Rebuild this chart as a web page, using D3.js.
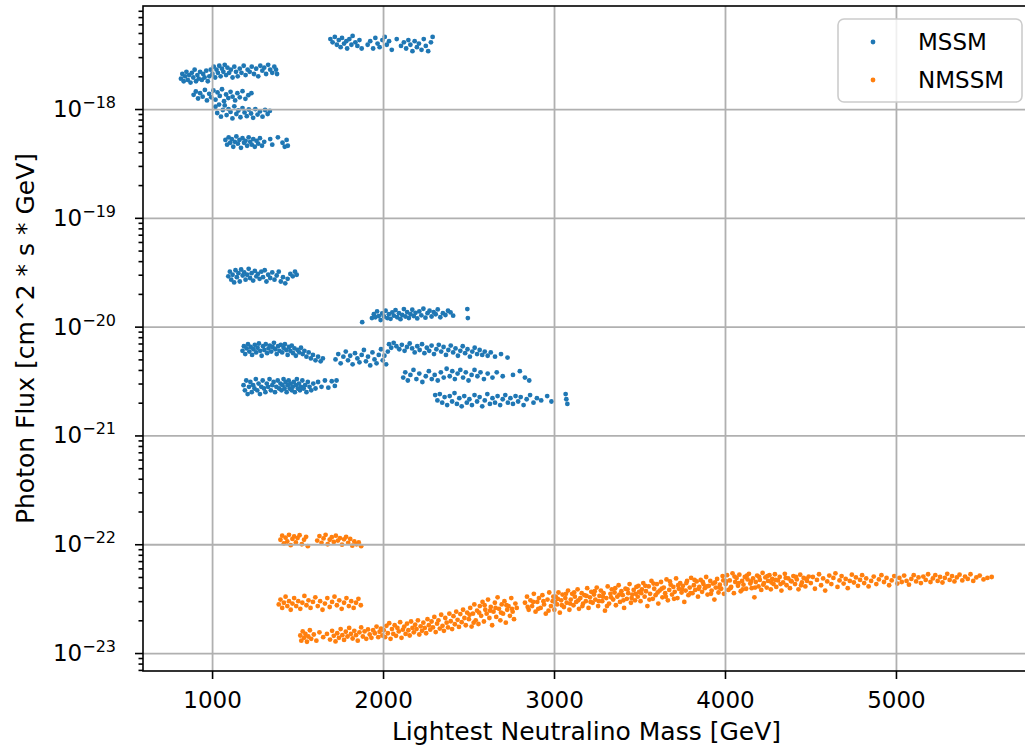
<!DOCTYPE html>
<html>
<head>
<meta charset="utf-8">
<script src="https://cdnjs.cloudflare.com/ajax/libs/d3/7.8.5/d3.min.js"></script>
<style>
  body { margin: 0; background: #fff; overflow: hidden; }
  text { font-family: "DejaVu Sans", sans-serif; fill: #000; }
</style>
</head>
<body>
<div id="chart"></div>
<script>
// tick values and legend names
var xTicks = [1000, 2000, 3000, 4000, 5000];
var yTickExponents = [-23, -22, -21, -20, -19, -18];
var seriesNames = ["MSSM", "NMSSM"];

// MSSM clusters, [mass GeV, photon flux]
var mssmA = [[1692,4.4e-18],[1705,4.1e-18],[1718,4.6e-18],[1730,3.9e-18],[1741,4.3e-18],[1752,3.7e-18],[1760,4.5e-18],[1772,4.0e-18],[1785,4.2e-18],[1790,3.6e-18],[1803,4.4e-18],[1815,3.9e-18],[1822,4.7e-18],[1838,4.1e-18],[1850,3.8e-18],[1862,4.3e-18],[1875,3.6e-18],[1910,3.9e-18],[1925,4.2e-18],[1942,3.6e-18],[1955,4.5e-18],[1968,4.0e-18],[1980,3.7e-18],[1996,4.3e-18],[2010,4.6e-18],[2022,3.9e-18],[2035,4.2e-18],[2051,3.5e-18],[2080,4.4e-18],[2105,3.8e-18],[2122,4.1e-18],[2135,3.6e-18],[2148,4.3e-18],[2160,3.9e-18],[2172,3.4e-18],[2185,4.2e-18],[2198,3.7e-18],[2210,4.0e-18],[2225,3.5e-18],[2238,4.4e-18],[2250,3.8e-18],[2264,3.4e-18],[2280,4.1e-18],[2290,4.6e-18]];
var mssmB = [[818,1.9e-18],[826,2.1e-18],[834,1.8e-18],[842,2.0e-18],[850,2.2e-18],[858,1.85e-18],[866,2.05e-18],[874,1.75e-18],[882,2.15e-18],[890,1.95e-18],[898,2.3e-18],[906,1.8e-18],[914,2.05e-18],[922,1.9e-18],[930,2.2e-18],[940,1.85e-18],[948,2.1e-18],[956,1.95e-18],[966,2.25e-18],[975,1.8e-18],[984,2.0e-18],[992,2.3e-18],[1002,2.1e-18],[1010,2.45e-18],[1018,1.95e-18],[1026,2.3e-18],[1034,2.15e-18],[1042,2.5e-18],[1050,2.0e-18],[1058,2.35e-18],[1066,2.2e-18],[1074,2.55e-18],[1082,2.05e-18],[1090,2.4e-18],[1100,2.15e-18],[1110,2.3e-18],[1120,1.95e-18],[1130,2.45e-18],[1140,2.2e-18],[1150,2.0e-18],[1162,2.35e-18],[1172,2.15e-18],[1185,2.5e-18],[1196,2.05e-18],[1208,2.3e-18],[1220,2.2e-18],[1232,2.45e-18],[1245,2.1e-18],[1258,2.35e-18],[1270,2.0e-18],[1282,2.5e-18],[1294,2.25e-18],[1305,2.4e-18],[1316,2.1e-18],[1328,2.55e-18],[1340,2.3e-18],[1352,2.15e-18],[1364,2.45e-18],[1374,2.3e-18],[1380,2.1e-18]];
var mssmC = [[892,1.35e-18],[905,1.45e-18],[918,1.25e-18],[930,1.4e-18],[945,1.3e-18],[958,1.5e-18],[970,1.2e-18],[983,1.38e-18],[995,1.28e-18],[1008,1.48e-18],[1020,1.22e-18],[1032,1.42e-18],[1045,1.32e-18],[1058,1.52e-18],[1070,1.18e-18],[1082,1.36e-18],[1095,1.26e-18],[1108,1.44e-18],[1120,1.3e-18],[1135,1.2e-18],[1148,1.4e-18],[1162,1.28e-18],[1178,1.46e-18],[1195,1.24e-18],[1212,1.34e-18],[1230,1.4e-18]];
var mssmD = [[1020,1.05e-18],[1030,9.2e-19],[1041,1.1e-18],[1052,8.5e-19],[1063,9.8e-19],[1074,1.08e-18],[1085,8.8e-19],[1096,1.0e-18],[1108,9.4e-19],[1119,8.2e-19],[1130,1.06e-18],[1142,9.0e-19],[1154,9.7e-19],[1166,8.4e-19],[1178,1.02e-18],[1190,9.3e-19],[1203,8.6e-19],[1215,9.9e-19],[1228,9.1e-19],[1240,8.3e-19],[1253,1.0e-18],[1266,8.9e-19],[1280,9.5e-19],[1295,8.5e-19],[1310,9.8e-19],[1325,9.0e-19],[1338,9.6e-19]];
var mssmE = [[1078,5.2e-19],[1088,4.7e-19],[1097,5.5e-19],[1106,4.9e-19],[1115,5.3e-19],[1124,4.5e-19],[1133,5.0e-19],[1142,5.6e-19],[1151,4.8e-19],[1160,5.2e-19],[1169,4.4e-19],[1178,5.4e-19],[1187,4.9e-19],[1196,5.1e-19],[1205,4.6e-19],[1214,5.5e-19],[1223,5.0e-19],[1232,4.7e-19],[1241,5.3e-19],[1250,4.5e-19],[1260,5.1e-19],[1270,4.8e-19],[1280,5.4e-19],[1292,4.6e-19],[1305,5.0e-19],[1340,5.3e-19],[1352,4.7e-19],[1385,5.5e-19],[1412,4.9e-19],[1425,4.5e-19],[1436,5.2e-19],[1443,4.6e-19]];
var mssmF = [[1095,2.9e-20],[1104,3.2e-20],[1112,2.7e-20],[1120,3.0e-20],[1129,2.55e-20],[1137,3.3e-20],[1145,2.85e-20],[1154,3.1e-20],[1162,2.6e-20],[1170,3.35e-20],[1179,2.95e-20],[1188,3.15e-20],[1196,2.7e-20],[1205,3.0e-20],[1214,3.4e-20],[1222,2.8e-20],[1231,3.1e-20],[1240,2.65e-20],[1250,3.25e-20],[1259,2.9e-20],[1268,3.05e-20],[1278,2.75e-20],[1288,3.2e-20],[1298,2.85e-20],[1308,3.3e-20],[1318,2.6e-20],[1328,3.0e-20],[1340,2.8e-20],[1352,3.15e-20],[1365,2.7e-20],[1378,2.95e-20],[1390,3.2e-20],[1402,2.6e-20],[1415,2.85e-20],[1428,2.5e-20],[1442,2.75e-20],[1458,3.05e-20],[1472,2.9e-20],[1485,3.2e-20],[1495,3.0e-20]];
var mssmG = [[1878,1.1e-20],[1935,1.2e-20],[1946,1.3e-20],[1955,1.22e-20],[1965,1.38e-20],[1975,1.25e-20],[1986,1.15e-20],[1995,1.32e-20],[2005,1.24e-20],[2015,1.4e-20],[2025,1.2e-20],[2034,1.3e-20],[2044,1.18e-20],[2054,1.35e-20],[2063,1.26e-20],[2073,1.42e-20],[2083,1.22e-20],[2093,1.33e-20],[2102,1.17e-20],[2112,1.28e-20],[2122,1.45e-20],[2131,1.24e-20],[2141,1.36e-20],[2151,1.2e-20],[2161,1.3e-20],[2171,1.43e-20],[2180,1.25e-20],[2190,1.34e-20],[2200,1.19e-20],[2212,1.38e-20],[2224,1.27e-20],[2236,1.46e-20],[2248,1.21e-20],[2260,1.33e-20],[2272,1.4e-20],[2284,1.24e-20],[2296,1.36e-20],[2308,1.3e-20],[2320,1.44e-20],[2335,1.22e-20],[2350,1.33e-20],[2365,1.28e-20],[2380,1.4e-20],[2395,1.35e-20],[2410,1.26e-20],[2493,1.45e-20],[2496,1.2e-20]];
var mssmH = [[1178,6.0e-21],[1186,6.6e-21],[1194,5.6e-21],[1202,6.3e-21],[1210,6.9e-21],[1218,5.9e-21],[1226,6.5e-21],[1234,5.5e-21],[1242,6.2e-21],[1250,6.8e-21],[1258,5.8e-21],[1266,6.4e-21],[1274,7.0e-21],[1282,6.0e-21],[1290,5.4e-21],[1298,6.6e-21],[1306,6.1e-21],[1314,6.9e-21],[1322,5.7e-21],[1330,6.3e-21],[1338,6.7e-21],[1346,5.9e-21],[1354,6.5e-21],[1362,7.1e-21],[1370,6.2e-21],[1378,5.6e-21],[1386,6.6e-21],[1394,6.0e-21],[1402,6.8e-21],[1410,5.8e-21],[1418,6.4e-21],[1426,6.9e-21],[1434,6.1e-21],[1442,5.5e-21],[1450,6.5e-21],[1458,6.0e-21],[1466,6.7e-21],[1474,5.7e-21],[1482,6.3e-21],[1490,5.4e-21],[1500,6.1e-21],[1510,5.8e-21],[1520,6.4e-21],[1530,5.6e-21],[1540,6.0e-21],[1552,5.3e-21],[1565,5.8e-21],[1578,5.1e-21],[1590,5.5e-21],[1605,4.9e-21],[1620,5.3e-21],[1635,4.8e-21],[1648,5.1e-21]];
var mssmJ = [[1722,5.0e-21],[1738,5.6e-21],[1752,4.6e-21],[1768,5.3e-21],[1782,5.9e-21],[1795,4.9e-21],[1808,5.4e-21],[1822,4.5e-21],[1836,5.7e-21],[1850,5.1e-21],[1862,4.7e-21],[1875,5.5e-21],[1888,6.1e-21],[1900,4.8e-21],[1912,5.3e-21],[1925,4.4e-21],[1938,5.8e-21],[1950,5.0e-21],[1962,4.6e-21],[1975,5.5e-21],[1988,6.2e-21],[1998,4.9e-21],[2008,5.4e-21],[2018,4.5e-21],[2028,5.9e-21]];
var mssmI = [[2035,6.9e-21],[2048,6.4e-21],[2062,7.1e-21],[2078,6.6e-21],[2095,6.2e-21],[2110,6.8e-21],[2126,6.0e-21],[2140,6.5e-21],[2156,7.0e-21],[2170,6.3e-21],[2185,5.8e-21],[2200,6.6e-21],[2214,6.1e-21],[2228,6.9e-21],[2242,5.7e-21],[2256,6.4e-21],[2270,6.0e-21],[2284,6.7e-21],[2298,5.6e-21],[2312,6.2e-21],[2326,6.8e-21],[2340,5.9e-21],[2354,6.5e-21],[2368,5.5e-21],[2382,6.1e-21],[2396,6.7e-21],[2410,5.8e-21],[2424,6.3e-21],[2438,5.4e-21],[2452,6.0e-21],[2466,6.6e-21],[2480,5.7e-21],[2494,6.2e-21],[2508,5.3e-21],[2522,5.9e-21],[2536,6.4e-21],[2550,5.6e-21],[2565,6.1e-21],[2580,5.5e-21],[2595,5.9e-21],[2612,5.4e-21],[2630,5.8e-21],[2655,5.3e-21],[2690,5.6e-21],[2728,5.2e-21]];
var mssmK = [[2118,3.4e-21],[2130,3.8e-21],[2145,3.2e-21],[2160,3.6e-21],[2178,4.0e-21],[2195,3.3e-21],[2212,3.7e-21],[2230,3.1e-21],[2250,3.5e-21],[2268,3.9e-21],[2285,3.3e-21],[2302,3.6e-21],[2320,3.2e-21],[2338,3.8e-21],[2355,3.4e-21],[2372,4.1e-21],[2390,3.5e-21],[2405,3.9e-21],[2420,3.3e-21],[2436,3.7e-21],[2452,4.0e-21],[2468,3.4e-21],[2484,3.8e-21],[2500,3.2e-21],[2518,3.6e-21],[2535,4.0e-21],[2552,3.5e-21],[2570,3.8e-21],[2590,3.3e-21],[2612,3.7e-21],[2640,3.4e-21],[2665,3.8e-21],[2700,3.5e-21],[2760,3.6e-21],[2800,3.9e-21],[2830,3.4e-21],[2855,3.2e-21]];
var mssmL = [[1184,2.9e-21],[1192,2.6e-21],[1200,3.2e-21],[1208,2.4e-21],[1216,2.8e-21],[1224,3.1e-21],[1232,2.5e-21],[1240,2.9e-21],[1248,2.7e-21],[1256,3.3e-21],[1264,2.6e-21],[1272,3.0e-21],[1280,2.4e-21],[1288,2.8e-21],[1296,3.2e-21],[1304,2.7e-21],[1312,2.5e-21],[1320,3.0e-21],[1328,2.8e-21],[1336,3.3e-21],[1344,2.6e-21],[1352,2.9e-21],[1360,3.1e-21],[1368,2.5e-21],[1376,2.8e-21],[1384,3.2e-21],[1392,2.7e-21],[1400,3.0e-21],[1406,2.6e-21],[1412,2.9e-21],[1418,3.3e-21],[1424,2.7e-21],[1430,3.1e-21],[1436,2.5e-21],[1442,2.9e-21],[1448,3.2e-21],[1454,2.7e-21],[1460,3.0e-21],[1466,2.6e-21],[1472,2.8e-21],[1478,3.1e-21],[1484,2.5e-21],[1490,2.9e-21],[1496,3.3e-21],[1502,2.7e-21],[1508,3.0e-21],[1514,2.6e-21],[1520,2.8e-21],[1528,3.2e-21],[1536,2.7e-21],[1544,2.9e-21],[1552,2.5e-21],[1560,3.1e-21],[1570,2.8e-21],[1580,2.6e-21],[1592,3.0e-21],[1605,2.7e-21],[1620,3.1e-21],[1640,2.8e-21],[1660,3.2e-21],[1680,2.75e-21],[1700,3.15e-21],[1718,2.85e-21],[1728,3.2e-21]];
var mssmM = [[2305,2.35e-21],[2318,2.1e-21],[2332,2.4e-21],[2346,2.0e-21],[2360,2.25e-21],[2375,1.9e-21],[2390,2.3e-21],[2404,2.05e-21],[2418,2.45e-21],[2432,1.95e-21],[2446,2.2e-21],[2460,1.85e-21],[2475,2.3e-21],[2490,2.0e-21],[2505,2.15e-21],[2520,1.9e-21],[2535,2.35e-21],[2550,2.05e-21],[2565,2.25e-21],[2580,1.85e-21],[2595,2.1e-21],[2610,2.4e-21],[2625,1.95e-21],[2640,2.2e-21],[2655,2.0e-21],[2670,2.3e-21],[2685,1.9e-21],[2700,2.15e-21],[2715,2.35e-21],[2730,2.0e-21],[2745,2.2e-21],[2760,1.95e-21],[2775,2.3e-21],[2790,2.05e-21],[2805,2.25e-21],[2822,1.9e-21],[2840,2.15e-21],[2860,2.35e-21],[2880,2.0e-21],[2900,2.2e-21],[2925,2.1e-21],[2960,2.3e-21],[2985,2.05e-21],[3068,2.4e-21],[3072,2.15e-21],[3078,1.95e-21]];

// NMSSM clusters
var nmssmN = [[1400,1.1e-22],[1410,1.2e-22],[1420,1.02e-22],[1430,1.15e-22],[1440,1.06e-22],[1450,1.22e-22],[1460,9.8e-23],[1470,1.12e-22],[1480,1.18e-22],[1490,1.04e-22],[1500,1.14e-22],[1512,1.21e-22],[1525,1.0e-22],[1538,1.1e-22],[1550,1.17e-22],[1560,9.6e-23],[1615,1.08e-22],[1628,1.19e-22],[1640,1.03e-22],[1652,1.13e-22],[1664,1.22e-22],[1676,1.0e-22],[1688,1.1e-22],[1700,1.16e-22],[1712,1.05e-22],[1724,1.2e-22],[1736,1.08e-22],[1748,1.14e-22],[1760,9.9e-23],[1772,1.11e-22],[1784,1.17e-22],[1796,1.03e-22],[1808,1.12e-22],[1820,9.7e-23],[1832,1.06e-22],[1845,1.0e-22],[1858,1.04e-22],[1872,9.6e-23]];
var nmssmO = [[1390,2.8e-23],[1400,3.1e-23],[1410,2.6e-23],[1420,2.9e-23],[1430,3.3e-23],[1440,2.7e-23],[1450,3.0e-23],[1460,2.5e-23],[1470,2.85e-23],[1480,3.2e-23],[1492,2.7e-23],[1504,3.0e-23],[1516,2.55e-23],[1528,2.9e-23],[1540,3.35e-23],[1552,2.75e-23],[1564,3.05e-23],[1576,2.6e-23],[1590,2.95e-23],[1604,3.25e-23],[1618,2.7e-23],[1632,3.0e-23],[1646,2.5e-23],[1660,2.85e-23],[1674,3.2e-23],[1688,2.65e-23],[1702,2.95e-23],[1716,3.3e-23],[1730,2.75e-23],[1744,3.05e-23],[1758,2.55e-23],[1772,2.9e-23],[1786,3.2e-23],[1800,2.7e-23],[1814,3.0e-23],[1828,2.6e-23],[1842,2.9e-23],[1856,3.15e-23],[1870,2.75e-23]];
var nmssmBand1 = [[1516,1.45e-23],[1522,1.3e-23],[1530,1.58e-23],[1538,1.38e-23],[1546,1.5e-23],[1555,1.27e-23],[1563,1.42e-23],[1572,1.62e-23],[1580,1.35e-23],[1595,1.48e-23],[1610,1.3e-23],[1628,1.55e-23],[1650,1.4e-23],[1672,1.5e-23],[1690,1.33e-23],[1702,1.6e-23],[1712,1.44e-23],[1722,1.28e-23],[1732,1.52e-23],[1742,1.38e-23],[1752,1.66e-23],[1762,1.46e-23],[1772,1.32e-23],[1782,1.57e-23],[1792,1.42e-23],[1802,1.7e-23],[1812,1.5e-23],[1822,1.36e-23],[1832,1.6e-23],[1842,1.46e-23],[1852,1.3e-23],[1862,1.55e-23],[1872,1.72e-23],[1882,1.42e-23],[1892,1.58e-23],[1902,1.35e-23],[1912,1.65e-23],[1922,1.48e-23],[1932,1.38e-23],[1942,1.62e-23],[1952,1.52e-23],[1962,1.75e-23],[1972,1.4e-23],[1980,1.57e-23],[1988,1.68e-23],[1996,1.45e-23]];
var nmssmBand2 = [[2004,1.62e-23],[2012,1.4e-23],[2020,1.78e-23],[2028,1.52e-23],[2036,1.88e-23],[2044,1.35e-23],[2052,1.66e-23],[2060,1.5e-23],[2068,1.8e-23],[2076,1.44e-23],[2084,1.7e-23],[2092,1.58e-23],[2100,1.92e-23],[2108,1.38e-23],[2116,1.64e-23],[2124,1.75e-23],[2132,1.5e-23],[2140,1.86e-23],[2148,1.62e-23],[2156,1.45e-23],[2164,1.95e-23],[2172,1.7e-23],[2180,1.55e-23],[2188,1.82e-23],[2196,1.66e-23],[2204,2.0e-23],[2212,1.48e-23],[2220,1.76e-23],[2228,1.6e-23],[2236,1.9e-23],[2244,1.7e-23],[2252,1.52e-23],[2260,2.05e-23],[2268,1.8e-23],[2276,1.64e-23],[2284,1.95e-23],[2292,1.72e-23],[2300,2.15e-23],[2308,1.56e-23],[2316,1.86e-23],[2324,2.0e-23],[2332,1.68e-23],[2340,2.25e-23],[2348,1.78e-23],[2356,1.6e-23],[2364,2.1e-23],[2372,1.9e-23],[2380,1.72e-23],[2388,2.3e-23],[2396,1.96e-23],[2404,1.66e-23],[2412,2.18e-23],[2420,1.84e-23],[2428,2.4e-23],[2436,2.02e-23],[2444,1.74e-23],[2452,2.28e-23],[2460,1.92e-23],[2468,2.5e-23],[2476,2.1e-23],[2484,1.8e-23],[2492,2.35e-23]];
var nmssmBand3 = [[2502,2.05e-23],[2510,2.6e-23],[2518,1.75e-23],[2526,2.3e-23],[2534,2.8e-23],[2542,2.0e-23],[2550,2.45e-23],[2558,1.85e-23],[2566,2.7e-23],[2574,2.2e-23],[2582,2.95e-23],[2590,1.95e-23],[2598,2.5e-23],[2606,2.3e-23],[2614,3.1e-23],[2622,2.1e-23],[2630,2.65e-23],[2638,1.8e-23],[2646,2.4e-23],[2654,2.9e-23],[2662,2.15e-23],[2670,3.25e-23],[2678,2.55e-23],[2686,2.0e-23],[2694,2.8e-23],[2702,2.3e-23],[2710,3.0e-23],[2718,1.9e-23],[2726,2.5e-23],[2734,2.7e-23],[2742,2.2e-23],[2750,3.2e-23],[2758,2.4e-23],[2766,2.05e-23],[2774,2.85e-23],[2782,2.6e-23],[2830,2.9e-23],[2842,3.3e-23],[2852,2.5e-23],[2862,3.05e-23],[2872,2.7e-23],[2882,3.5e-23],[2892,2.4e-23],[2902,2.95e-23],[2912,3.2e-23],[2922,2.6e-23],[2932,3.4e-23],[2942,2.8e-23],[2952,2.3e-23],[2962,3.1e-23],[2972,3.6e-23],[2982,2.7e-23],[2992,3.0e-23],
    [2506,2.25e-23],[2530,1.9e-23],[2562,2.35e-23],[2594,2.75e-23],[2626,2.45e-23],[2658,2.6e-23],[2690,2.35e-23],[2722,2.75e-23],[2754,2.55e-23],[2846,2.65e-23],[2878,2.95e-23],[2908,2.55e-23],[2938,3.0e-23],[2968,2.45e-23],[2996,3.3e-23]];
var nmssmBand4 = [[3002,2.5e-23],[3010,3.3e-23],[3018,2.8e-23],[3026,3.6e-23],[3034,2.35e-23],[3042,3.05e-23],[3050,3.45e-23],[3058,2.65e-23],[3066,3.2e-23],[3074,2.9e-23],[3082,3.75e-23],[3090,2.5e-23],[3098,3.1e-23],[3106,3.5e-23],[3114,2.75e-23],[3122,3.3e-23],[3130,2.95e-23],[3138,3.85e-23],[3146,2.55e-23],[3154,3.2e-23],[3162,3.55e-23],[3170,2.85e-23],[3178,3.4e-23],[3186,3.0e-23],[3194,3.95e-23],[3202,2.6e-23],[3210,3.25e-23],[3218,3.65e-23],[3226,2.9e-23],[3234,3.45e-23],[3242,3.1e-23],[3250,4.0e-23],[3258,2.7e-23],[3266,3.35e-23],[3274,3.75e-23],[3282,3.0e-23],[3290,3.55e-23],[3298,2.45e-23],[3306,3.2e-23],[3314,4.1e-23],[3322,2.85e-23],[3330,3.5e-23],[3338,3.85e-23],[3346,3.1e-23],[3354,3.6e-23],[3362,2.75e-23],[3370,3.3e-23],[3378,4.2e-23],[3386,2.95e-23],[3394,3.7e-23],[3402,3.4e-23],[3410,2.6e-23],[3418,3.9e-23],[3426,3.15e-23],[3434,3.55e-23],[3442,4.3e-23],[3450,2.9e-23],[3458,3.45e-23],[3466,3.8e-23],[3474,3.05e-23],[3482,4.05e-23],[3490,3.3e-23],[3498,3.65e-23],
    [3006,2.95e-23],[3022,3.15e-23],[3046,2.75e-23],[3070,3.5e-23],[3094,2.85e-23],[3118,3.6e-23],[3142,3.05e-23],[3166,2.7e-23],[3190,3.35e-23],[3214,2.95e-23],[3238,3.7e-23],[3262,3.0e-23],[3286,3.3e-23],[3310,2.7e-23],[3334,3.25e-23],[3358,3.95e-23],[3382,3.45e-23],[3406,3.05e-23],[3430,3.85e-23],[3454,3.2e-23],[3478,3.5e-23],[3494,4.15e-23]];
var nmssmBand5 = [[3506,3.0e-23],[3514,3.85e-23],[3522,4.4e-23],[3530,3.3e-23],[3538,3.7e-23],[3546,2.7e-23],[3554,4.1e-23],[3562,3.5e-23],[3570,4.6e-23],[3578,3.15e-23],[3586,3.9e-23],[3594,3.4e-23],[3602,4.3e-23],[3610,2.85e-23],[3618,3.75e-23],[3626,4.5e-23],[3634,3.25e-23],[3642,4.0e-23],[3650,3.55e-23],[3658,4.75e-23],[3666,3.05e-23],[3674,3.8e-23],[3682,4.25e-23],[3690,3.45e-23],[3698,4.05e-23],[3706,3.65e-23],[3714,4.85e-23],[3722,3.2e-23],[3730,3.9e-23],[3738,4.4e-23],[3746,3.6e-23],[3754,4.15e-23],[3762,2.95e-23],[3770,3.75e-23],[3778,4.6e-23],[3786,3.4e-23],[3794,4.0e-23],[3802,4.9e-23],[3810,3.55e-23],[3818,4.2e-23],[3826,3.8e-23],[3834,4.55e-23],[3842,3.3e-23],[3850,4.05e-23],[3858,4.7e-23],[3866,3.65e-23],[3874,4.3e-23],[3882,3.95e-23],[3890,5.0e-23],[3898,3.45e-23],[3906,4.15e-23],[3914,4.6e-23],[3922,3.75e-23],[3930,4.35e-23],[3938,3.1e-23],[3946,4.0e-23],[3954,4.8e-23],[3962,3.6e-23],[3970,4.25e-23],[3978,3.9e-23],[3986,5.1e-23],[3994,3.5e-23],
    [3510,3.55e-23],[3534,4.15e-23],[3558,3.1e-23],[3582,4.35e-23],[3606,3.6e-23],[3630,3.9e-23],[3654,3.3e-23],[3678,4.55e-23],[3702,3.15e-23],[3726,4.2e-23],[3750,3.85e-23],[3774,4.4e-23],[3798,3.55e-23],[3822,4.7e-23],[3846,3.9e-23],[3870,4.5e-23],[3894,4.1e-23],[3918,3.5e-23],[3942,4.45e-23],[3966,4.0e-23],[3990,4.65e-23]];
var nmssmBand6 = [[4004,4.3e-23],[4012,5.2e-23],[4020,3.8e-23],[4028,4.65e-23],[4036,4.05e-23],[4044,5.4e-23],[4052,3.55e-23],[4060,4.5e-23],[4068,4.9e-23],[4076,4.15e-23],[4084,5.25e-23],[4092,3.7e-23],[4100,4.6e-23],[4108,4.25e-23],[4116,5.0e-23],[4124,3.9e-23],[4132,4.75e-23],[4140,5.35e-23],[4148,4.35e-23],[4156,3.95e-23],[4164,4.85e-23],[4172,3.25e-23],[4180,4.5e-23],[4188,5.15e-23],[4196,4.1e-23],[4204,4.7e-23],[4212,3.8e-23],[4220,5.45e-23],[4228,4.4e-23],[4236,4.95e-23],[4244,4.0e-23],[4252,4.6e-23],[4260,5.2e-23],[4268,3.85e-23],[4276,4.8e-23],[4284,4.3e-23],[4292,5.3e-23],[4300,4.05e-23],[4310,4.65e-23],[4320,5.0e-23],[4330,3.75e-23],[4340,4.45e-23],[4350,5.35e-23],[4360,4.2e-23],[4370,4.85e-23],[4380,3.95e-23],[4390,4.55e-23],[4400,5.1e-23],[4410,4.3e-23],[4420,4.75e-23],[4430,3.85e-23],[4440,5.25e-23],[4450,4.45e-23],[4460,4.9e-23],[4470,4.1e-23],[4480,4.6e-23],[4490,5.05e-23],
    [4008,4.55e-23],[4032,3.95e-23],[4056,5.05e-23],[4080,4.4e-23],[4104,3.85e-23],[4128,5.15e-23],[4152,4.55e-23],[4176,4.0e-23],[4200,5.0e-23],[4224,4.25e-23],[4248,5.1e-23],[4272,4.45e-23],[4296,4.7e-23],[4325,4.3e-23],[4355,4.9e-23],[4385,4.6e-23],[4415,5.0e-23],[4445,4.2e-23],[4475,4.8e-23]];
var nmssmBand7 = [[4502,4.4e-23],[4514,5.0e-23],[4526,3.9e-23],[4538,4.7e-23],[4550,5.3e-23],[4562,4.2e-23],[4574,4.85e-23],[4586,3.75e-23],[4598,4.55e-23],[4610,5.15e-23],[4622,4.3e-23],[4634,4.9e-23],[4646,5.4e-23],[4658,4.05e-23],[4670,4.65e-23],[4682,5.1e-23],[4694,4.35e-23],[4706,4.8e-23],[4718,3.95e-23],[4730,4.6e-23],[4742,5.25e-23],[4754,4.45e-23],[4766,4.95e-23],[4778,4.15e-23],[4790,4.7e-23],[4802,5.2e-23],[4814,4.4e-23],[4826,4.85e-23],[4840,4.1e-23],[4855,4.6e-23],[4870,5.05e-23],[4885,4.3e-23],[4900,4.75e-23],[4915,5.2e-23],[4930,4.5e-23],[4945,4.9e-23],[4960,4.2e-23],[4975,4.65e-23],[4990,5.1e-23]];
var nmssmBand8 = [[5008,4.35e-23],[5020,4.9e-23],[5034,4.5e-23],[5048,5.15e-23],[5062,4.6e-23],[5076,4.25e-23],[5090,4.8e-23],[5104,5.2e-23],[5118,4.55e-23],[5132,4.95e-23],[5146,4.4e-23],[5160,5.05e-23],[5174,4.7e-23],[5188,5.3e-23],[5202,4.5e-23],[5216,4.85e-23],[5230,5.2e-23],[5244,4.6e-23],[5258,5.0e-23],[5272,4.45e-23],[5286,4.9e-23],[5300,5.35e-23],[5314,4.7e-23],[5328,5.1e-23],[5342,4.55e-23],[5356,4.95e-23],[5372,5.25e-23],[5388,4.65e-23],[5404,5.05e-23],[5420,4.8e-23],[5436,5.3e-23],[5452,4.6e-23],[5470,4.95e-23],[5490,5.15e-23],[5512,4.75e-23],[5535,4.9e-23],[5560,5.0e-23]];

var mssm = [].concat(mssmA, mssmB, mssmC, mssmD, mssmE, mssmF, mssmG, mssmH, mssmJ, mssmI, mssmK, mssmL, mssmM);
var nmssm = [].concat(nmssmN, nmssmO, nmssmBand1, nmssmBand2, nmssmBand3, nmssmBand4, nmssmBand5, nmssmBand6, nmssmBand7, nmssmBand8);

var colors = ["#1f77b4", "#ff7f0e"];

// drawing area (right spine falls just outside the picture)
var margin = {top: 6, left: 143};
var width = 887, height = 665;

var svg = d3.select("#chart")
    .append("svg")
    .attr("width", 1025)
    .attr("height", 749);

var g = svg.append("g")
    .attr("transform", "translate(" + margin.left + "," + margin.top + ")");

var x = d3.scaleLinear()
    .domain([596, 5784])
    .range([0, width]);

var y = d3.scaleLog()
    .domain([Math.pow(10, -23.165), Math.pow(10, -17.053)])
    .range([height, 0]);

var majorY = yTickExponents.map(function(e) { return Math.pow(10, e); });
var minorY = y.ticks().filter(function(v) {
    var l = Math.log10(v);
    return Math.abs(l - Math.round(l)) > 1e-6;
});

// points
[mssm, nmssm].forEach(function(series, i) {
    g.append("g")
        .selectAll("circle")
        .data(series)
        .enter()
        .append("circle")
        .attr("cx", function(d) { return x(d[0]); })
        .attr("cy", function(d) { return y(d[1]); })
        .attr("r", 2.4)
        .style("fill", colors[i]);
});

// grid sits above the scatter, like matplotlib
var gridX = g.append("g")
    .attr("transform", "translate(0," + height + ")")
    .call(d3.axisBottom(x).tickValues(xTicks).tickSize(-height).tickFormat(""));
var gridY = g.append("g")
    .call(d3.axisLeft(y).tickValues(majorY).tickSize(-width).tickFormat(""));
[gridX, gridY].forEach(function(gr) {
    gr.select(".domain").remove();
    gr.selectAll("line").style("stroke", "#b0b0b0").style("stroke-width", 1.8);
});

// axes
var xAxis = g.append("g")
    .attr("transform", "translate(0," + height + ")")
    .call(d3.axisBottom(x).tickValues(xTicks).tickSize(8).tickPadding(13).tickFormat(d3.format("d")));

var yMinor = g.append("g")
    .call(d3.axisLeft(y).tickValues(minorY).tickSize(4.5).tickFormat(""));

var yAxis = g.append("g")
    .call(d3.axisLeft(y).tickValues(majorY).tickSize(8).tickPadding(19));

yAxis.selectAll(".tick text")
    .text(null)
    .each(function(d, i) {
        var t = d3.select(this);
        t.append("tspan").text("10");
        t.append("tspan")
            .attr("dy", -9)
            .style("font-size", "16px")
            .text("\u2212" + Math.abs(yTickExponents[i]));
    });

[xAxis, yAxis, yMinor].forEach(function(ax) {
    ax.selectAll(".domain").remove();
    ax.selectAll("line").style("stroke", "#000").style("stroke-width", 1.6);
    ax.selectAll("text").style("font-size", "23px").style("font-family", "DejaVu Sans");
});

// spines
g.append("rect")
    .attr("width", width)
    .attr("height", height)
    .style("fill", "none")
    .style("stroke", "#000")
    .style("stroke-width", 1.6);

// axis labels
svg.append("text")
    .attr("x", margin.left + width / 2)
    .attr("y", 740)
    .attr("text-anchor", "middle")
    .style("font-size", "25px")
    .text("Lightest Neutralino Mass [GeV]");

svg.append("text")
    .attr("transform", "translate(34," + (margin.top + height / 2) + ") rotate(-90)")
    .attr("text-anchor", "middle")
    .style("font-size", "25px")
    .text("Photon Flux [cm^2 * s * GeV]");

// legend
var legend = svg.append("g");
legend.append("rect")
    .attr("x", 838)
    .attr("y", 19)
    .attr("width", 184)
    .attr("height", 83)
    .attr("rx", 6)
    .style("fill", "#fff")
    .style("fill-opacity", 0.8)
    .style("stroke", "#cccccc")
    .style("stroke-width", 1.6);

seriesNames.forEach(function(name, i) {
    legend.append("circle")
        .attr("cx", 873)
        .attr("cy", 42 + i * 38)
        .attr("r", 2.4)
        .style("fill", colors[i]);
    legend.append("text")
        .attr("x", 918)
        .attr("y", 50 + i * 38)
        .style("font-size", "23px")
        .text(name);
});
</script>
</body>
</html>
